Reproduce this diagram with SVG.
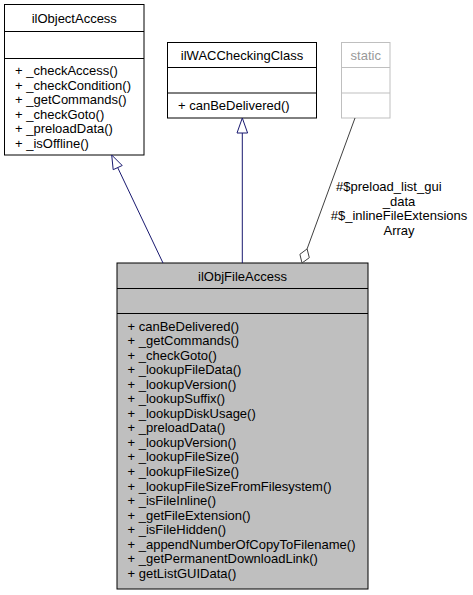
<svg xmlns="http://www.w3.org/2000/svg" width="473" height="595" viewBox="0 0 473 595">
<style>
text{font-family:"Liberation Sans",Arial,Helvetica,sans-serif;font-size:13px;fill:#000}
.c{text-anchor:middle}
.box{fill:#fff;stroke:#000;stroke-width:1}
.main{fill:#bfbfbf;stroke:#000;stroke-width:1}
.sbox{fill:#fff;stroke:#bfbfbf;stroke-width:1}
.st{fill:#999}
.inh{fill:none;stroke:#191970;stroke-width:1}
.inhh{fill:#fff;stroke:#191970;stroke-width:1}
.agg{fill:none;stroke:#404040;stroke-width:1}
.aggh{fill:#fff;stroke:#404040;stroke-width:1}
</style>
<rect width="473" height="595" fill="#fff"/>
<g id="ilObjectAccess">
<rect class="box" x="4.5" y="4.5" width="139.5" height="150.5"/>
<line class="box" x1="4.5" y1="31.5" x2="144" y2="31.5"/>
<line class="box" x1="4.5" y1="58.5" x2="144" y2="58.5"/>
<text class="c" x="74.25" y="23">ilObjectAccess</text>
<text x="15" y="75.2">+ _checkAccess()</text>
<text x="15" y="89.7">+ _checkCondition()</text>
<text x="15" y="104.3">+ _getCommands()</text>
<text x="15" y="118.8">+ _checkGoto()</text>
<text x="15" y="133.4">+ _preloadData()</text>
<text x="15" y="147.9">+ _isOffline()</text>
</g>
<g id="ilWACCheckingClass">
<rect class="box" x="167.5" y="42.5" width="149" height="75.5"/>
<line class="box" x1="167.5" y1="67.5" x2="316.5" y2="67.5"/>
<line class="box" x1="167.5" y1="93" x2="316.5" y2="93"/>
<text class="c" x="242" y="60">ilWACCheckingClass</text>
<text x="178" y="110">+ canBeDelivered()</text>
</g>
<g id="static">
<rect class="sbox" x="341.5" y="42.5" width="48.5" height="75.5"/>
<line class="sbox" x1="341.5" y1="67.5" x2="390" y2="67.5"/>
<line class="sbox" x1="341.5" y1="93" x2="390" y2="93"/>
<text class="c st" x="365.75" y="60">static</text>
</g>
<g id="ilObjFileAccess">
<rect class="main" x="117" y="263" width="251" height="326"/>
<line class="main" x1="117" y1="288.5" x2="368" y2="288.5"/>
<line class="main" x1="117" y1="313.5" x2="368" y2="313.5"/>
<text class="c" x="242.5" y="280.5">ilObjFileAccess</text>
<text x="127.5" y="330.5">+ canBeDelivered()</text>
<text x="127.5" y="345.05">+ _getCommands()</text>
<text x="127.5" y="359.6">+ _checkGoto()</text>
<text x="127.5" y="374.15">+ _lookupFileData()</text>
<text x="127.5" y="388.7">+ _lookupVersion()</text>
<text x="127.5" y="403.25">+ _lookupSuffix()</text>
<text x="127.5" y="417.8">+ _lookupDiskUsage()</text>
<text x="127.5" y="432.35">+ _preloadData()</text>
<text x="127.5" y="446.9">+ _lookupVersion()</text>
<text x="127.5" y="461.45">+ _lookupFileSize()</text>
<text x="127.5" y="476">+ _lookupFileSize()</text>
<text x="127.5" y="490.55">+ _lookupFileSizeFromFilesystem()</text>
<text x="127.5" y="505.1">+ _isFileInline()</text>
<text x="127.5" y="519.65">+ _getFileExtension()</text>
<text x="127.5" y="534.2">+ _isFileHidden()</text>
<text x="127.5" y="548.75">+ _appendNumberOfCopyToFilename()</text>
<text x="127.5" y="563.3">+ _getPermanentDownloadLink()</text>
<text x="127.5" y="577.85">+ getListGUIData()</text>
</g>
<g id="connectors">
<path class="inh" d="M163,263 L117.7,167.6"/>
<polygon class="inhh" points="111.7,155 113.2,169.7 122.2,165.5"/>
<path class="inh" d="M242.3,263 L242.3,133"/>
<polygon class="inhh" points="242.3,118 237,133 247.6,133"/>
<path class="agg" d="M355,118 L307.1,248.9"/>
<polygon class="aggh" points="302,263 299.9,254.3 307.1,248.9 309.3,257.7"/>
<text x="336" y="191">#$preload_list_gui</text>
<text class="c" x="399" y="205.5">_data</text>
<text class="c" x="399" y="220">#$_inlineFileExtensions</text>
<text class="c" x="399" y="234.5">Array</text>
</g>
</svg>
